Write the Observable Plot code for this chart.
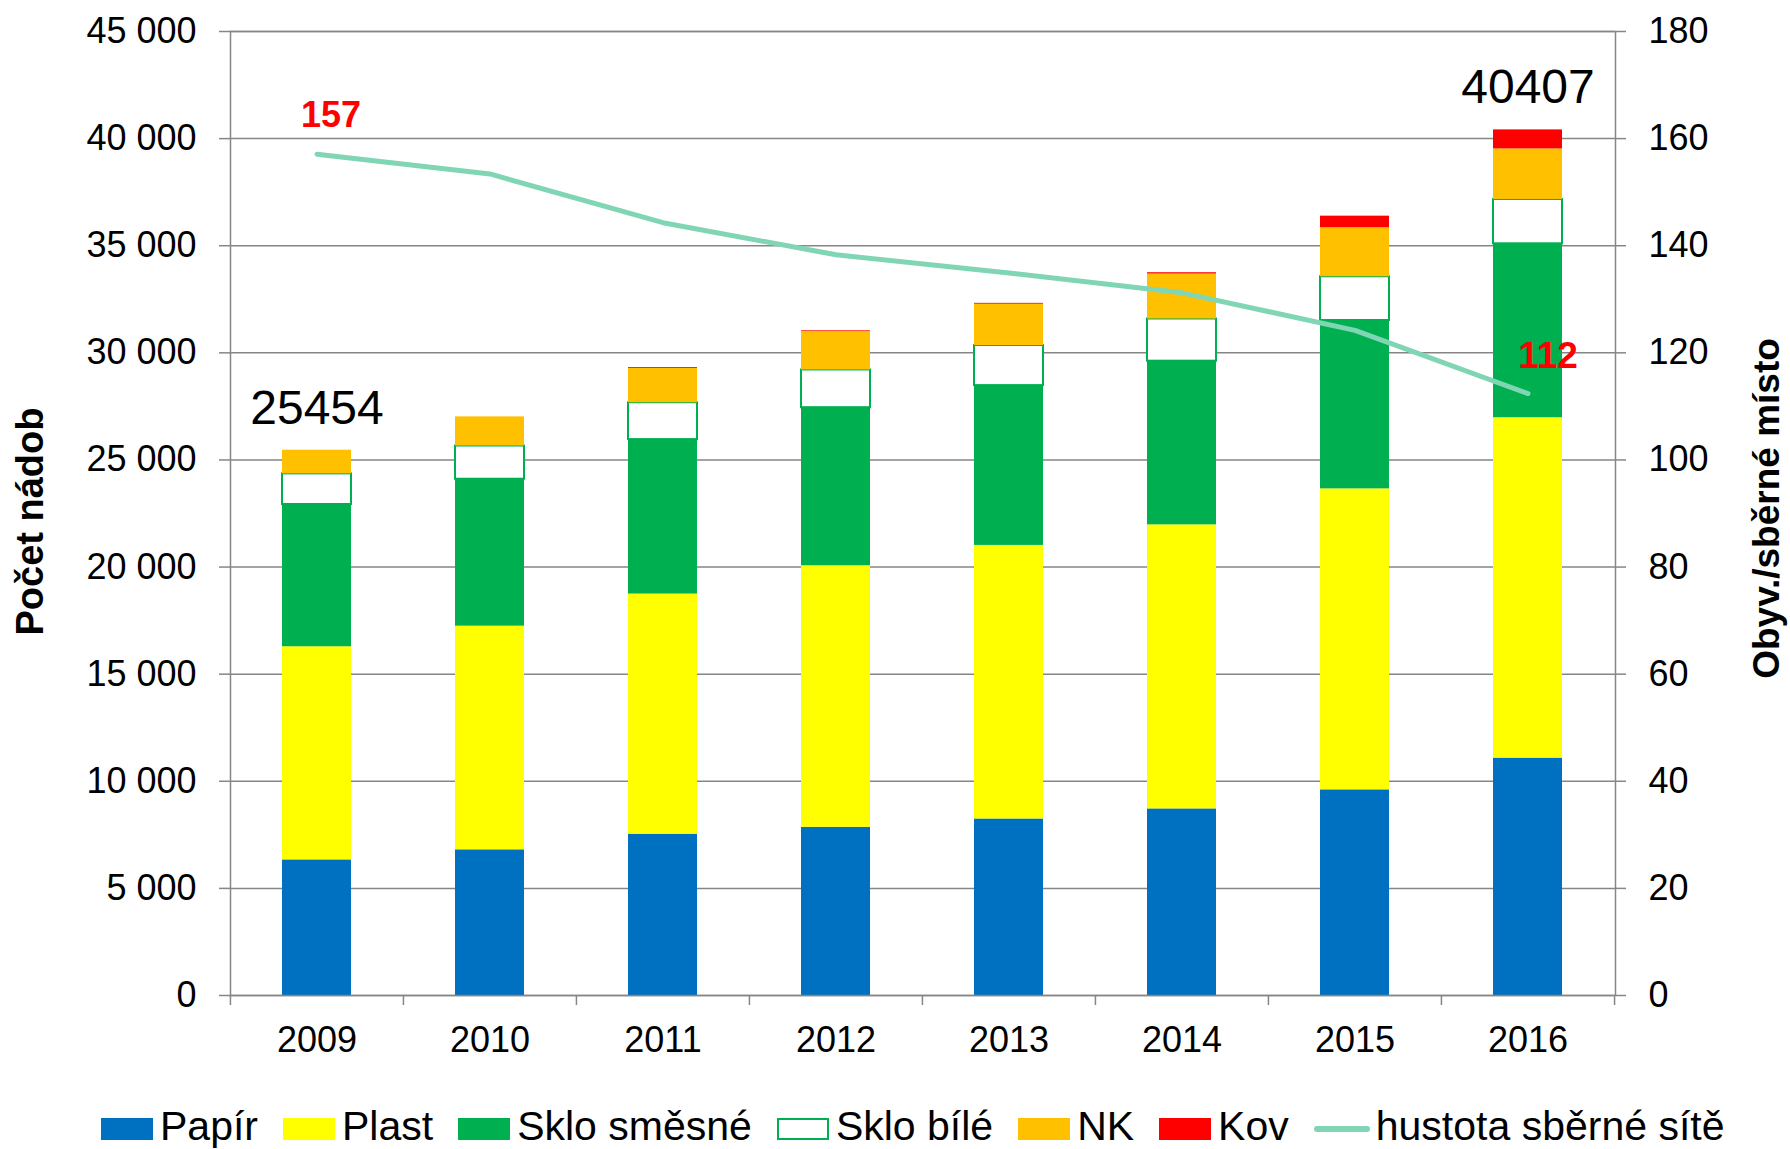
<!DOCTYPE html>
<html><head><meta charset="utf-8">
<script src="https://cdn.jsdelivr.net/npm/d3@7"></script>
<script src="https://cdn.jsdelivr.net/npm/@observablehq/plot@0.6"></script>
<style>
body{margin:0;background:#fff;font-family:"Liberation Sans",Arial,sans-serif;}
#chart{width:1790px;height:1149px;position:relative;overflow:hidden;}
.legend{display:flex;align-items:center;padding-left:101px;margin-top:21px;height:40px;line-height:40px;font-size:41px;color:#000;white-space:nowrap;}
.item{display:flex;align-items:center;margin-right:25px;}
.sw{width:52px;height:22px;margin-right:7px;box-sizing:border-box;position:relative;top:3px;}
.ln{width:56px;height:6px;border-radius:3px;margin-right:6px;position:relative;top:3px;}
</style></head><body><div id="chart"></div>
<script>
const years = ["2009","2010","2011","2012","2013","2014","2015","2016"];
const categories = ["Papír","Plast","Sklo směsné","Sklo bílé","NK","Kov"];
const categoryColors = ["#0070C0","#FFFF00","#00B050","#FFFFFF","#FFC000","#FF0000"];
const papir      = [6330, 6800, 7530, 7850, 8240, 8710, 9600, 11080];
const plast      = [9950, 10440, 11210, 12210, 12770, 13260, 14050, 15890];
const skloSmesne = [6640, 6860, 7210, 7380, 7460, 7640, 7860, 8120];
const skloBile   = [1430, 1550, 1720, 1760, 1870, 1970, 2040, 2070];
const nk         = [1104, 1360, 1600, 1810, 1930, 2100, 2290, 2360];
const kov        = [0, 0, 40, 30, 40, 60, 540, 887];
const hustota    = [157.1, 153.4, 144.3, 138.3, 134.9, 131.2, 124.2, 112.4];
const leftTicks  = [0, 5000, 10000, 15000, 20000, 25000, 30000, 35000, 40000, 45000];
const rightTicks = [0, 20, 40, 60, 80, 100, 120, 140, 160, 180];
const totalLabelYears = ["2009", "2016"];
const densityLabelYears = ["2009", "2016"];
const leftTitle = "Počet nádob";
const rightTitle = "Obyv./sběrné místo";
const lineLabel = "hustota sběrné sítě";

const series = [papir, plast, skloSmesne, skloBile, nk, kov];
const rows = [];
categories.forEach((c, ci) => years.forEach((y, yi) => rows.push({year: y, cat: c, value: series[ci][yi]})));
const totals = years.map((y, i) => ({year: y, total: d3.sum(series, s => s[i])}));
const dens = years.map((y, i) => ({year: y, v: hustota[i]}));
const ratio = leftTicks[leftTicks.length - 1] / rightTicks[rightTicks.length - 1];

const W = 1790, H = 1085, mL = 230, mR = 175, mT = 31, mB = 90;
const step = (W - mL - mR) / years.length;
const gray = "#868686";
const font = "'Liberation Sans', Arial, sans-serif";
const fmt = d => d3.format(",")(d).replace(/,/g, " ");

const chart = Plot.plot({
  width: W, height: H, marginTop: mT, marginBottom: mB, marginLeft: mL, marginRight: mR,
  style: {fontFamily: font, fontSize: "36px", color: "#000", background: "#fff"},
  x: {type: "band", domain: years, paddingInner: 0.6, paddingOuter: 0.3},
  y: {domain: [0, 45000]},
  color: {domain: categories, range: categoryColors},
  marks: [
    Plot.gridY(leftTicks, {stroke: gray, strokeOpacity: 1, strokeWidth: 1.5}),
    Plot.barY(rows, {x: "year", y: "value", fill: "cat", order: categories,
      stroke: "#00B050", strokeWidth: 2, strokeOpacity: d => d.cat === "Sklo bílé" ? 1 : 0}),
    Plot.frame({stroke: gray, strokeWidth: 1.5}),
    Plot.axisY(leftTicks, {anchor: "left", tickSize: 11, tickPadding: 23, tickFormat: fmt, label: null,
      stroke: gray, strokeWidth: 1.5, fill: "#000", fontSize: 36}),
    Plot.axisY(rightTicks.map(d => d * ratio), {anchor: "right", tickSize: 10, tickPadding: 23,
      tickFormat: d => String(Math.round(d / ratio)), label: null, stroke: gray, strokeWidth: 1.5, fill: "#000", fontSize: 36}),
    Plot.axisX({tickSize: 0, tickPadding: 31, label: null, fill: "#000", fontSize: 36}),
    Plot.axisX({tickSize: 10, dx: -step / 2, tickFormat: () => "", label: null, stroke: gray, strokeWidth: 1.5}),
    Plot.axisX([years[years.length - 1]], {tickSize: 10, dx: step / 2, tickFormat: () => "", label: null, stroke: gray, strokeWidth: 1.5}),
    Plot.line(dens, {x: "year", y: d => d.v * ratio, stroke: "#80D6B4", strokeWidth: 5, strokeLinecap: "round", strokeLinejoin: "round"}),
    Plot.text(totals.filter(d => totalLabelYears.includes(d.year)), {x: "year", y: "total", text: d => String(d.total), dy: -42, fontSize: 48, fill: "#000"}),
    Plot.text(dens.filter(d => d.year === densityLabelYears[0]), {x: "year", y: d => d.v * ratio, text: d => String(Math.round(d.v)), dx: 14, dy: -39, fill: "#FF0000", fontWeight: "bold", fontSize: 36}),
    Plot.text(dens.filter(d => d.year === densityLabelYears[1]), {x: "year", y: d => d.v * ratio, text: d => String(Math.round(d.v)), dx: 20, dy: -37, fill: "#FF0000", fontWeight: "bold", fontSize: 37}),
    Plot.text([leftTitle], {frameAnchor: "left", textAnchor: "middle", text: d => d, rotate: -90, dx: -200, dy: 8, fontWeight: "bold", fontSize: 38, fill: "#000"}),
    Plot.text([rightTitle], {frameAnchor: "right", textAnchor: "middle", text: d => d, rotate: -90, dx: 152, dy: -5, fontWeight: "bold", fontSize: 37, fill: "#000"})
  ]
});
const root = document.getElementById("chart");
root.appendChild(chart);

const legend = document.createElement("div");
legend.className = "legend";
categories.forEach((c, i) => {
  const it = document.createElement("div"); it.className = "item";
  const sw = document.createElement("span"); sw.className = "sw";
  sw.style.background = categoryColors[i];
  if (c === "Sklo bílé") sw.style.border = "2px solid #00B050";
  const t = document.createElement("span"); t.textContent = c;
  it.appendChild(sw); it.appendChild(t); legend.appendChild(it);
});
const it = document.createElement("div"); it.className = "item";
const ln = document.createElement("span"); ln.className = "ln"; ln.style.background = "#80D6B4";
const t = document.createElement("span"); t.textContent = lineLabel;
it.appendChild(ln); it.appendChild(t); legend.appendChild(it);
root.appendChild(legend);
</script></body></html>
